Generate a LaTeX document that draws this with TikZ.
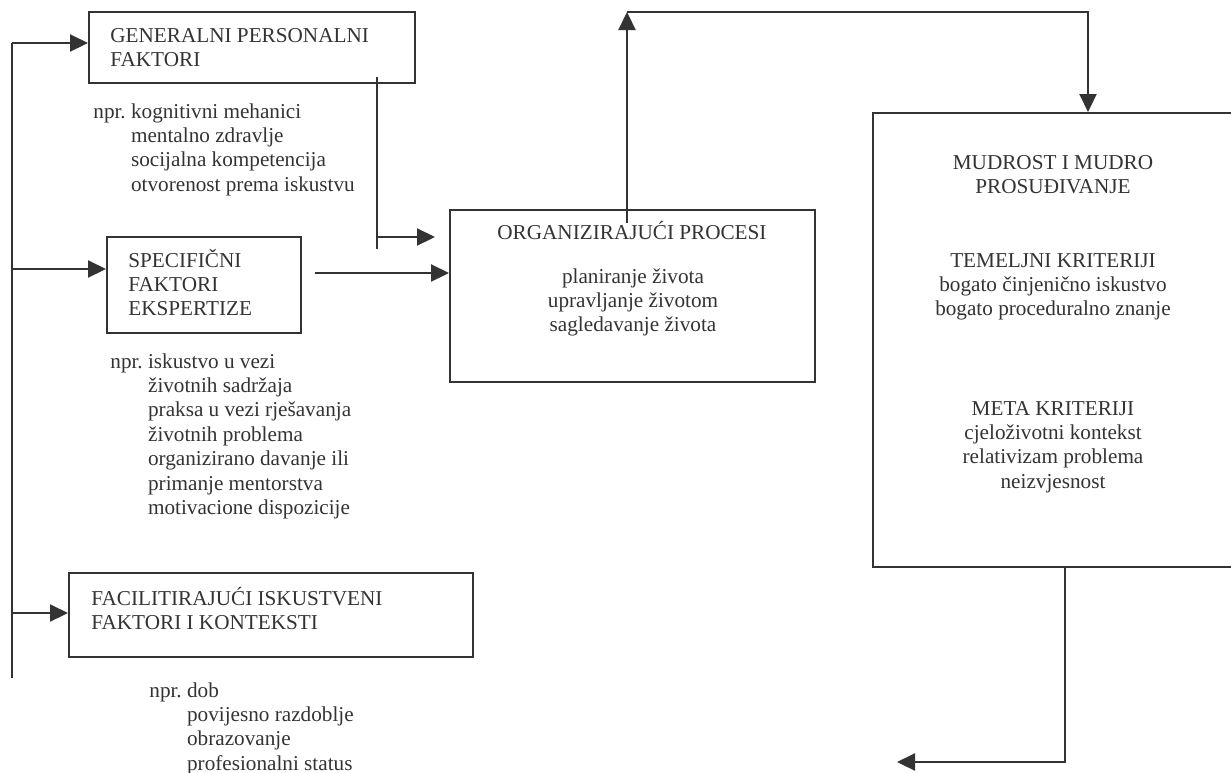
\documentclass[tikz,border=0pt]{standalone}
\usepackage{fontspec}
\setmainfont{Liberation Serif}
\usetikzlibrary{arrows.meta}
\definecolor{ink}{HTML}{333333}
\tikzset{
  box/.style={draw=ink, line width=1pt, rectangle, inner sep=0pt},
  txt/.style={inner sep=0pt, text=ink, font=\fontsize{10.6}{12.2}\selectfont},
  ln/.style={draw=ink, line width=1.1pt},
  arr/.style={ln, -{Triangle[length=9pt,width=8.5pt]}}
}
\begin{document}
\begin{tikzpicture}[x=0.5pt, y=-0.5pt]
\useasboundingbox (0,0) rectangle (1231,772);

% boxes
\node[box, minimum width=163pt, minimum height=35.5pt] (gen) at (252,47.5) {};
\node[box, minimum width=97pt, minimum height=48pt] (spec) at (204,285) {};
\node[box, minimum width=202pt, minimum height=42pt] (fac) at (271,615) {};
\node[box, minimum width=182.5pt, minimum height=86pt] (org) at (632.5,296) {};
\node[box, minimum width=181.5pt, minimum height=227pt] (mud) at (1054.5,340) {};

% box texts
\node[txt, anchor=base west] (gentxt) at (110,42) {\begin{tabular}[t]{@{}l@{}}GENERALNI PERSONALNI\\FAKTORI\end{tabular}};
\node[txt, anchor=base west] (spectxt) at (128,267) {\begin{tabular}[t]{@{}l@{}}SPECIFIČNI\\FAKTORI\\EKSPERTIZE\end{tabular}};
\node[txt, anchor=base west] (factxt) at (91,605) {\begin{tabular}[t]{@{}l@{}}FACILITIRAJUĆI ISKUSTVENI\\FAKTORI I KONTEKSTI\end{tabular}};
\node[txt, anchor=base] (orgtitle) at (632,239) {ORGANIZIRAJUĆI PROCESI};
\node[txt, anchor=base] (orgtxt) at (633,283) {\begin{tabular}[t]{@{}c@{}}planiranje života\\upravljanje životom\\sagledavanje života\end{tabular}};
\node[txt, anchor=base] (mudtitle) at (1053,169) {\begin{tabular}[t]{@{}c@{}}MUDROST I MUDRO\\PROSUĐIVANJE\end{tabular}};
\node[txt, anchor=base] (mudbase) at (1053,267) {\begin{tabular}[t]{@{}c@{}}TEMELJNI KRITERIJI\\bogato činjenično iskustvo\\bogato proceduralno znanje\end{tabular}};
\node[txt, anchor=base] (mudmeta) at (1053,415) {\begin{tabular}[t]{@{}c@{}}META KRITERIJI\\cjeloživotni kontekst\\relativizam problema\\neizvjesnost\end{tabular}};

% examples under the boxes
\node[txt, anchor=base west] (genex) at (93,118) {\begin{tabular}[t]{@{}l@{\ }l@{}}npr. & kognitivni mehanici\\ & mentalno zdravlje\\ & socijalna kompetencija\\ & otvorenost prema iskustvu\end{tabular}};
\node[txt, anchor=base west] (specex) at (110,368) {\begin{tabular}[t]{@{}l@{\ }l@{}}npr. & iskustvo u vezi\\ & životnih sadržaja\\ & praksa u vezi rješavanja\\ & životnih problema\\ & organizirano davanje ili\\ & primanje mentorstva\\ & motivacione dispozicije\end{tabular}};
\node[txt, anchor=base west] (facex) at (149,697) {\begin{tabular}[t]{@{}l@{\ }l@{}}npr. & dob\\ & povijesno razdoblje\\ & obrazovanje\\ & profesionalni status\end{tabular}};

% left bus
\coordinate (bgen) at (12,43);
\coordinate (bspec) at (12,269);
\coordinate (bfac) at (12,613);
\coordinate (bend) at (12,678);
\draw[ln] (bgen) -- (bend);
\draw[arr] (bgen) -- (bgen -| gen.west); %bus-gen
\draw[arr] (bspec) -- (bspec -| spec.west); %bus-spec
\draw[arr] (bfac) -- (bfac -| fac.west); %bus-fac

% gen and spec into org
\coordinate (gdrop) at (377,77);
\coordinate (gend) at (377,249);
\coordinate (gturn) at (377,237);
\coordinate (gtip) at (435,237);
\draw[ln] (gdrop) -- (gend);
\draw[arr] (gturn) -- (gtip); %gen-org
\coordinate (sout) at (315,273);
\draw[arr] (sout) -- (sout -| org.west); %spec-org

% org up and over to mud
\coordinate (oup) at (627,223);
\coordinate (otop) at (627,12);
\coordinate (mtop) at (1088,12);
\draw[arr] (oup) -- (otop);
\draw[arr] (otop) -- (mtop) -- (mtop |- mud.north); %org-mud

% mud back out
\coordinate (mbot) at (1065,762);
\coordinate (mtip) at (897,762);
\draw[arr] (mbot |- mud.south) -- (mbot) -- (mtip);

\end{tikzpicture}
\end{document}
